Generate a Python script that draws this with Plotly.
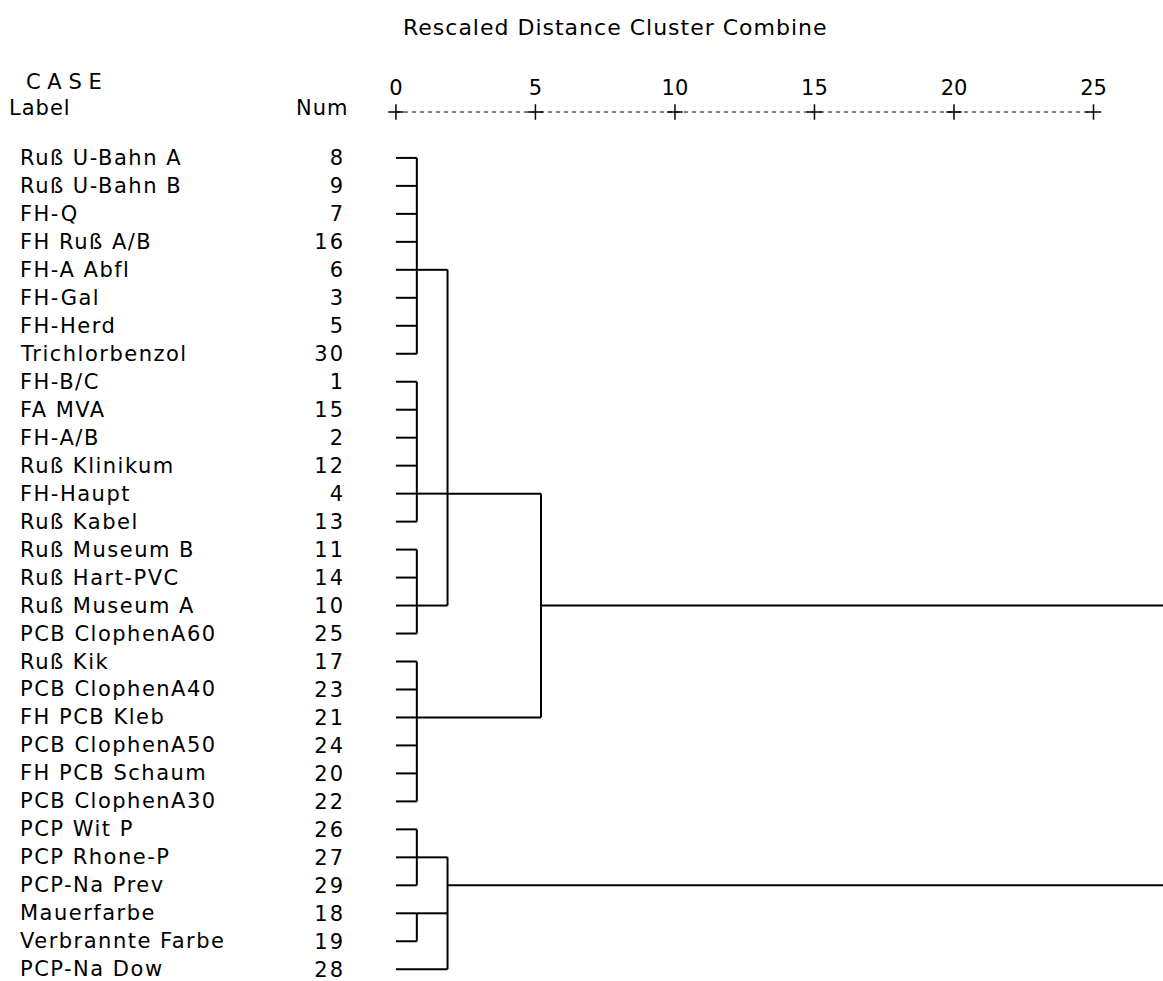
import plotly.graph_objects as go

# ---------------- data ----------------
labels = ["Ruß U-Bahn A", "Ruß U-Bahn B", "FH-Q", "FH Ruß A/B", "FH-A Abfl", "FH-Gal",
          "FH-Herd", "Trichlorbenzol", "FH-B/C", "FA MVA", "FH-A/B", "Ruß Klinikum",
          "FH-Haupt", "Ruß Kabel", "Ruß Museum B", "Ruß Hart-PVC", "Ruß Museum A",
          "PCB ClophenA60", "Ruß Kik", "PCB ClophenA40", "FH PCB Kleb", "PCB ClophenA50",
          "FH PCB Schaum", "PCB ClophenA30", "PCP Wit P", "PCP Rhone-P", "PCP-Na Prev",
          "Mauerfarbe", "Verbrannte Farbe", "PCP-Na Dow"]
nums = [8, 9, 7, 16, 6, 3, 5, 30, 1, 15, 2, 12, 4, 13, 11, 14, 10, 25, 17, 23, 21, 24,
        20, 22, 26, 27, 29, 18, 19, 28]

# merge steps (children: leaf index or earlier node name)
node_names = ["A", "B", "C", "D", "E", "F", "G", "H", "I", "root"]
node_children = [list(range(0, 8)), list(range(8, 14)), list(range(14, 18)),
                 list(range(18, 24)), [24, 25, 26], [27, 28],
                 ["A", "B", "C"], ["E", "F", 29], ["G", "D"], ["I", "H"]]
node_dist = [0.75, 0.75, 0.75, 0.75, 0.75, 0.75, 1.85, 1.85, 5.2, 28.0]
node_row = [4, 12, 16, 20, 25, 27, 12, 26, 16, 21]

tick_vals = [0, 5, 10, 15, 20, 25]
tick_text = ["0", "5", "10", "15", "20", "25"]

# ---------------- layout helpers ----------------
W, H = 1163, 981
FONT = "DejaVu Sans"
FS = 21
PLOT_LEFT, PLOT_TOP = 380, 100
PLUS_ROW = -1.64


def px(x):
    return x / W


def py(y):
    return 1 - y / H


def spaced(t, s):
    return '<span style="letter-spacing:%spx">%s</span>' % (s, t)


# ---------------- dendrogram lines ----------------
info = {i: (0.0, i) for i in range(len(labels))}
xs, ys = [], []
for name, ch, d, r in zip(node_names, node_children, node_dist, node_row):
    rows = [info[c][1] for c in ch]
    xs += [d, d, None]
    ys += [min(rows), max(rows), None]
    for c in ch:
        cd, cr = info[c]
        xs += [cd, d, None]
        ys += [cr, cr, None]
    info[name] = (d, r)

fig = go.Figure()
fig.add_trace(go.Scatter(x=xs, y=ys, mode="lines",
                         line=dict(color="black", width=2), hoverinfo="skip",
                         showlegend=False))

# "+-----+" axis row
fig.add_trace(go.Scatter(x=[tick_vals[0], tick_vals[-1]], y=[PLUS_ROW, PLUS_ROW],
                         mode="lines", line=dict(color="black", width=1, dash="4px,4px"),
                         hoverinfo="skip", showlegend=False))
fig.add_trace(go.Scatter(x=tick_vals, y=[PLUS_ROW] * len(tick_vals), mode="markers",
                         marker=dict(symbol="cross-thin", size=11, color="black",
                                     line=dict(color="black", width=1.5)),
                         hoverinfo="skip", showlegend=False))

annotations = []
for i, lab in enumerate(labels):
    annotations.append(dict(x=px(18), xref="paper", y=i, yref="y", text=spaced(lab, 1.5),
                            showarrow=False, xanchor="left", yanchor="middle",
                            font=dict(family=FONT, size=FS, color="black")))
annotations += [
    dict(x=px(615), y=py(27), xref="paper", yref="paper",
         text=spaced("Rescaled Distance Cluster Combine", 1), showarrow=False,
         xanchor="center", yanchor="middle", font=dict(family=FONT, size=22, color="black")),
    dict(x=px(24), y=py(82), xref="paper", yref="paper", text="C A S E",
         showarrow=False, xanchor="left", yanchor="middle",
         font=dict(family=FONT, size=FS, color="black")),
    dict(x=px(7), y=py(108), xref="paper", yref="paper", text=spaced("Label", 1),
         showarrow=False, xanchor="left", yanchor="middle",
         font=dict(family=FONT, size=FS, color="black")),
    dict(x=px(350), y=py(108), xref="paper", yref="paper", text=spaced("Num", 1),
         showarrow=False, xanchor="right", yanchor="middle",
         font=dict(family=FONT, size=FS, color="black")),
]

fig.update_layout(
    width=W, height=H,
    margin=dict(l=0, r=0, t=0, b=0),
    paper_bgcolor="white", plot_bgcolor="white",
    annotations=annotations,
    xaxis=dict(domain=[px(PLOT_LEFT), 1], range=[-0.57, 27.49], side="top",
               tickvals=tick_vals, ticktext=tick_text, showgrid=False, zeroline=False,
               showline=False, ticks="", tickfont=dict(family=FONT, size=FS, color="black")),
    yaxis=dict(domain=[0, py(PLOT_TOP)], range=[29.42, -2.07],
               tickvals=list(range(len(nums))),
               ticktext=[spaced(str(n), 2) for n in nums],
               showgrid=False, zeroline=False, showline=False, ticks="",
               ticklabelstandoff=34, ticklabeloverflow="allow",
               tickfont=dict(family=FONT, size=FS, color="black")),
)

fig.write_html("out.html", config={"displayModeBar": False},
               post_script="document.body.style.margin='0';")
